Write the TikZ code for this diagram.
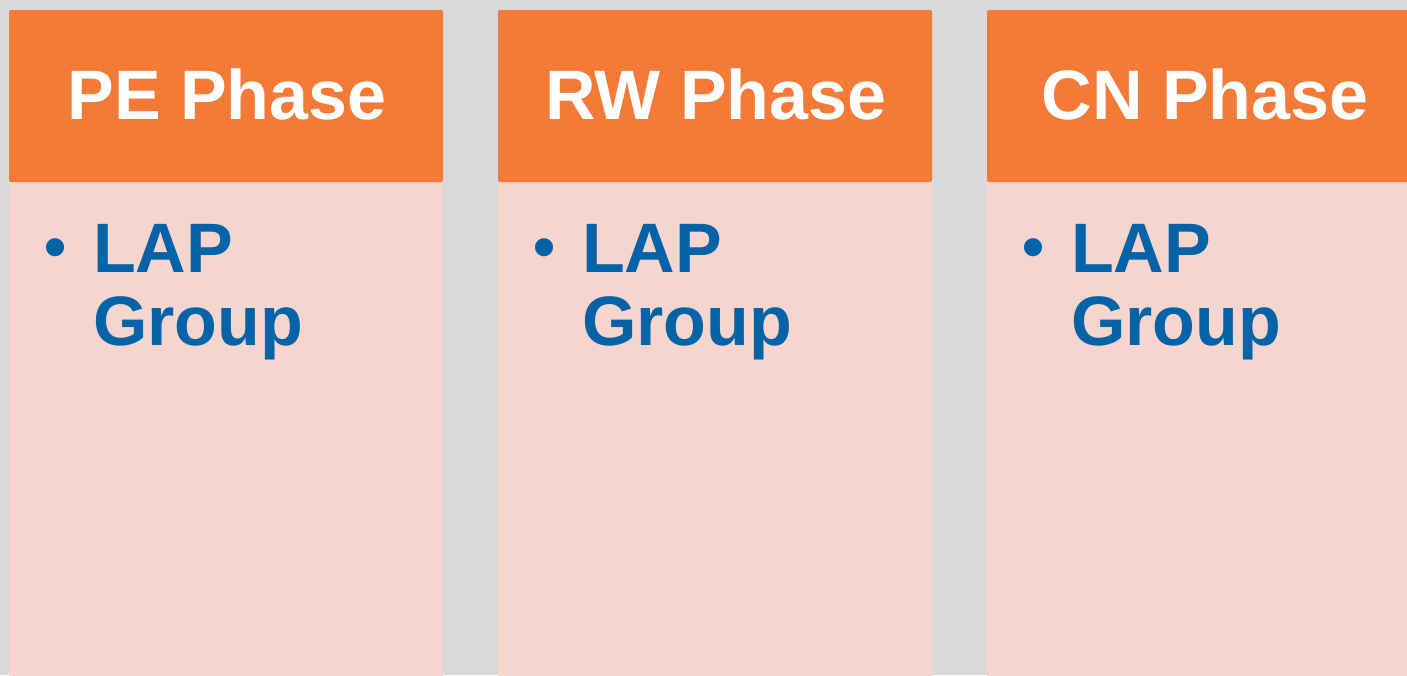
\documentclass[tikz,border=0pt]{standalone}
\usepackage{fontspec}
\setmainfont{Liberation Sans}
\definecolor{bg}{HTML}{D9D9D9}
\definecolor{hdr}{HTML}{F47A38}
\definecolor{bodyc}{HTML}{F6D5CF}
\definecolor{txtblue}{HTML}{0563A8}
\tikzset{
  hdrbox/.style={fill=hdr, rounded corners=2pt},
  bodybox/.style={fill=bodyc},
  hdrtext/.style={inner sep=0pt, anchor=base, text=white, font=\fontsize{70}{72}\selectfont\bfseries},
  itemtext/.style={inner sep=0pt, anchor=base west, text=txtblue, font=\fontsize{70}{73}\selectfont\bfseries},
  bullettext/.style={inner sep=0pt, anchor=base west, text=txtblue, font=\fontsize{63}{66}\selectfont\bfseries},
}
\begin{document}
\begin{tikzpicture}[x=1pt,y=-1pt]
\useasboundingbox (0,0) rectangle (1407,675);
\clip (0,0) rectangle (1407,675);
\fill[bg] (0,0) rectangle (1407,675);
\foreach \i/\lab in {0/PE,1/RW,2/CN}{
  \pgfmathsetmacro{\xo}{9+489*\i}
  \fill[bodybox] (\xo,182) rectangle ({\xo+434},720);
  \fill[hdrbox] (\xo,182) -- (\xo,10) -- ({\xo+434},10) -- ({\xo+434},182) -- cycle;
  \node[hdrtext] (h\i) at ({\xo+218},119) {\lab{} Phase};
  \node[bullettext] (b\i) at ({\xo+35},268) {•};
  \node[itemtext] (l\i) at ({\xo+84},272) {LAP};
  \node[itemtext] (g\i) at ({\xo+84},345) {Group};
}
\end{tikzpicture}
\end{document}
